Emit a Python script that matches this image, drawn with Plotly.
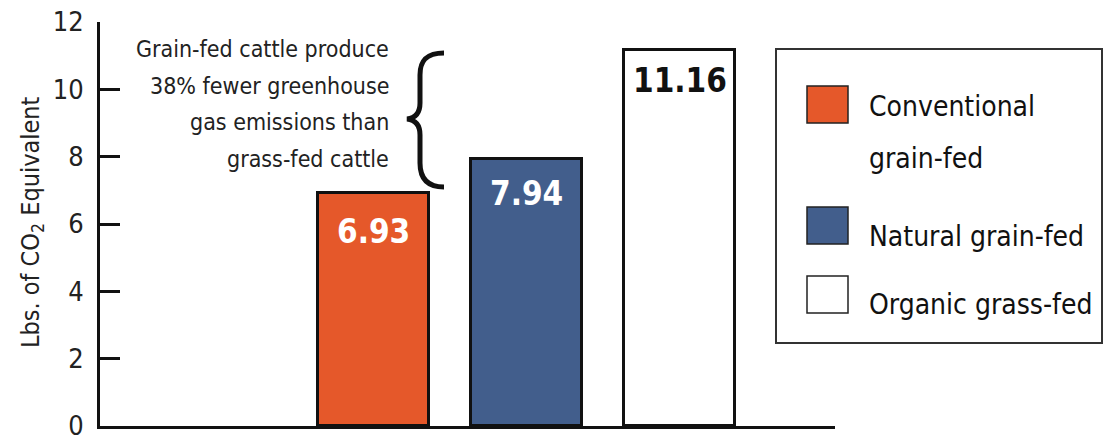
import plotly.graph_objects as go

# ---- data ----
categories = ["Conventional grain-fed", "Natural grain-fed", "Organic grass-fed"]
values = [6.93, 7.94, 11.16]
value_labels = ["6.93", "7.94", "11.16"]
legend_lines = [["Conventional", "grain-fed"], ["Natural grain-fed"], ["Organic grass-fed"]]
bar_colors = ["#E5582A", "#425E8C", "#FFFFFF"]
label_colors = ["#FFFFFF", "#FFFFFF", "#111111"]
y_ticks = [0, 2, 4, 6, 8, 10, 12]
note_lines = ["Grain-fed cattle produce", "38% fewer greenhouse",
              "gas emissions than", "grass-fed cattle"]

FONT = "DejaVu Sans Condensed, Liberation Sans Narrow, Arial Narrow, sans-serif"
W, H = 1105, 439
L, R, T, B = 100, 270, 22, 13
PW, PH = W - L - R, H - T - B


def px(xp):
    return (xp - L) / PW


def py(yp):
    return (H - B - yp) / PH


fig = go.Figure()
fig.add_trace(go.Bar(
    x=categories, y=values, width=0.72,
    marker=dict(color=bar_colors, line=dict(color="#111111", width=3)),
    showlegend=False, hoverinfo="skip",
))

annotations = []
for c, v, lab, col in zip(categories, values, value_labels, label_colors):
    annotations.append(dict(
        x=c, y=v, xref="x", yref="y", text=f"<b>{lab}</b>", showarrow=False,
        xanchor="center", yanchor="middle",
        yshift=-39 if v < 7.5 else (-35 if v < 10 else -30),
        font=dict(family=FONT, size=33, color=col)))

# y axis title
annotations.append(dict(
    x=px(32), y=py(222), xref="paper", yref="paper", textangle=-90,
    xanchor="center", yanchor="middle",
    text="Lbs. of CO<sub>2</sub> Equivalent", showarrow=False,
    font=dict(family=FONT, size=25, color="#222222")))

# note text, one line per annotation
for i, line in enumerate(note_lines):
    annotations.append(dict(
        x=px(391), y=py(49 + 36.7 * i), xref="paper", yref="paper",
        xanchor="right", yanchor="middle", text=line, showarrow=False,
        font=dict(family=FONT, size=23, color="#222222")))

shapes = []
# brace
pts = [(444, 53), (425, 53), (420, 62), (420, 75), (420, 103), (420, 112),
       (416, 118), (407, 119), (416, 120), (420, 126), (420, 135),
       (420, 163), (420, 176), (425, 187), (444, 187)]
P = [(px(a), py(b)) for a, b in pts]
path = (f"M {P[0][0]},{P[0][1]} C {P[1][0]},{P[1][1]} {P[2][0]},{P[2][1]} {P[3][0]},{P[3][1]} "
        f"L {P[4][0]},{P[4][1]} C {P[5][0]},{P[5][1]} {P[6][0]},{P[6][1]} {P[7][0]},{P[7][1]} "
        f"C {P[8][0]},{P[8][1]} {P[9][0]},{P[9][1]} {P[10][0]},{P[10][1]} "
        f"L {P[11][0]},{P[11][1]} C {P[12][0]},{P[12][1]} {P[13][0]},{P[13][1]} {P[14][0]},{P[14][1]}")
shapes.append(dict(type="path", path=path, xref="paper", yref="paper",
                   line=dict(color="#111111", width=5)))

# legend box
shapes.append(dict(type="rect", xref="paper", yref="paper",
                   x0=px(776), x1=px(1102), y0=py(343), y1=py(49),
                   line=dict(color="#333333", width=2), fillcolor="rgba(0,0,0,0)"))
sq_top = [86, 207, 276]
txt_y = [[107, 158], [236], [304]]
for col, lines, st, tys in zip(bar_colors, legend_lines, sq_top, txt_y):
    shapes.append(dict(type="rect", xref="paper", yref="paper",
                       x0=px(807), x1=px(848), y0=py(st + 37), y1=py(st),
                       line=dict(color="#222222", width=1.5), fillcolor=col))
    for line, ty in zip(lines, tys):
        annotations.append(dict(
            x=px(867), y=py(ty), xref="paper", yref="paper", xanchor="left",
            yanchor="middle", text=line, showarrow=False,
            font=dict(family=FONT, size=28, color="#111111")))

fig.update_layout(
    width=W, height=H, margin=dict(l=L, r=R, t=T, b=B, autoexpand=False),
    plot_bgcolor="white", paper_bgcolor="white",
    showlegend=False, bargap=0,
    xaxis=dict(type="category", range=[-1.788, 3.016], showline=True,
               linecolor="#111111", linewidth=3, showticklabels=False,
               ticks="", showgrid=False, zeroline=False, automargin=False),
    yaxis=dict(range=[0, 12], tickvals=y_ticks, showline=True,
               linecolor="#111111", linewidth=3, ticks="inside", ticklen=20,
               tickwidth=3, tickcolor="#111111", showgrid=False, zeroline=False,
               ticklabelstandoff=8, automargin=False, ticklabeloverflow="allow",
               tickfont=dict(family=FONT, size=27, color="#222222")),
    annotations=annotations, shapes=shapes,
)

fig.write_html("out.html", config={"displayModeBar": False},
               post_script="document.body.style.margin='0';document.body.style.overflow='hidden';")
